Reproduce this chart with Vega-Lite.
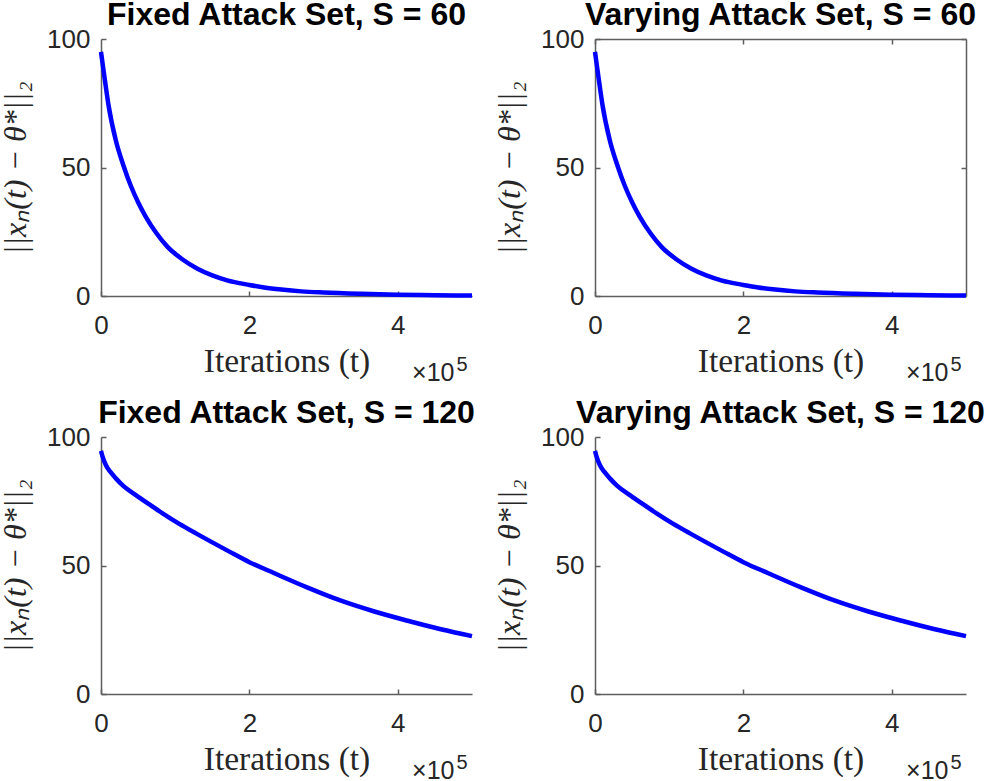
{
  "$schema": "https://vega.github.io/schema/vega-lite/v6.json",
  "padding": {"left": -2, "top": -1, "right": 5, "bottom": 0},
  "background": "white",
  "datasets": {
    "s60": [
      {"t": 0, "v": 95}, {"t": 2500, "v": 89.7}, {"t": 5000, "v": 84.5}, {"t": 10000, "v": 74.5},
      {"t": 20000, "v": 60.5}, {"t": 30000, "v": 51}, {"t": 40000, "v": 43}, {"t": 50000, "v": 36.5},
      {"t": 60000, "v": 31}, {"t": 75000, "v": 24.3}, {"t": 90000, "v": 19}, {"t": 110000, "v": 14.2},
      {"t": 130000, "v": 10.6}, {"t": 150000, "v": 8.0}, {"t": 170000, "v": 6.1}, {"t": 200000, "v": 4.3},
      {"t": 220000, "v": 3.3}, {"t": 243000, "v": 2.5}, {"t": 270000, "v": 1.8}, {"t": 300000, "v": 1.35},
      {"t": 350000, "v": 0.85}, {"t": 400000, "v": 0.5}, {"t": 450000, "v": 0.3}, {"t": 500000, "v": 0.15}
    ],
    "s120": [
      {"t": 0, "v": 94.6}, {"t": 2000, "v": 92.5}, {"t": 6700, "v": 89}, {"t": 13000, "v": 86.3},
      {"t": 20000, "v": 83.9}, {"t": 30000, "v": 81}, {"t": 47000, "v": 77.4}, {"t": 65000, "v": 73.8},
      {"t": 83000, "v": 70.3}, {"t": 105000, "v": 66.3}, {"t": 128000, "v": 62.5}, {"t": 150000, "v": 59},
      {"t": 173000, "v": 55.4}, {"t": 200000, "v": 51.3}, {"t": 233600, "v": 47.0}, {"t": 278500, "v": 41.4},
      {"t": 323500, "v": 36.3}, {"t": 368400, "v": 32.1}, {"t": 413300, "v": 28.5}, {"t": 458000, "v": 25.2},
      {"t": 500000, "v": 22.5}
    ]
  },
  "columns": 2,
  "bounds": "flush",
  "spacing": {"row": 141, "column": 123},
  "concat": [
    {
      "width": 371, "height": 257,
      "title": {"text": "Fixed Attack Set, S = 60"},
      "data": {"name": "s60"},
      "layer": [
        {
          "mark": {"type": "line", "color": "#0000ff", "strokeWidth": 4.5, "interpolate": "monotone"},
          "encoding": {
            "x": {"field": "t", "type": "quantitative", "scale": {"domain": [0, 500000], "nice": false},
                  "axis": {"values": [0, 200000, 400000], "labelExpr": "datum.value / 100000", "title": "Iterations (t)"}},
            "y": {"field": "v", "type": "quantitative", "scale": {"domain": [0, 100], "nice": false},
                  "axis": {"values": [0, 50, 100], "title": "||xₙ(t) − θ*||₂"}}
          }
        },
        {
          "mark": {"type": "line", "opacity": 0},
          "encoding": {
            "x": {"field": "t", "type": "quantitative",
                  "axis": {"orient": "bottom", "title": "×10", "domain": false, "ticks": false, "labels": false,
                           "titleAlign": "right", "titleX": 353, "titleY": 84, "titleFont": "Liberation Sans", "titleFontSize": 25}},
            "y": {"field": "v", "type": "quantitative", "axis": null}
          }
        },
        {
          "mark": {"type": "line", "opacity": 0},
          "encoding": {
            "x": {"field": "t", "type": "quantitative",
                  "axis": {"orient": "bottom", "title": "5", "domain": false, "ticks": false, "labels": false,
                           "titleAlign": "left", "titleX": 355, "titleY": 74, "titleFont": "Liberation Sans", "titleFontSize": 20}},
            "y": {"field": "v", "type": "quantitative", "axis": null}
          }
        }
      ],
      "resolve": {"axis": {"x": "independent", "y": "independent"}}
    },
    {
      "width": 371, "height": 257,
      "title": {"text": "Varying Attack Set, S = 60"},
      "data": {"name": "s60"},
      "layer": [
        {
          "mark": {"type": "line", "color": "#0000ff", "strokeWidth": 4.5, "interpolate": "monotone"},
          "encoding": {
            "x": {"field": "t", "type": "quantitative", "scale": {"domain": [0, 500000], "nice": false},
                  "axis": {"values": [0, 200000, 400000], "labelExpr": "datum.value / 100000", "title": "Iterations (t)"}},
            "y": {"field": "v", "type": "quantitative", "scale": {"domain": [0, 100], "nice": false},
                  "axis": {"values": [0, 50, 100], "title": "||xₙ(t) − θ*||₂"}}
          }
        },
        {
          "mark": {"type": "line", "opacity": 0},
          "encoding": {
            "x": {"field": "t", "type": "quantitative",
                  "axis": {"orient": "top", "title": null, "labels": false, "values": [0, 200000, 400000]}},
            "y": {"field": "v", "type": "quantitative",
                  "axis": {"orient": "right", "title": null, "labels": false, "values": [0, 50, 100]}}
          }
        },
        {
          "mark": {"type": "line", "opacity": 0},
          "encoding": {
            "x": {"field": "t", "type": "quantitative",
                  "axis": {"orient": "bottom", "title": "×10", "domain": false, "ticks": false, "labels": false,
                           "titleAlign": "right", "titleX": 353, "titleY": 84, "titleFont": "Liberation Sans", "titleFontSize": 25}},
            "y": {"field": "v", "type": "quantitative", "axis": null}
          }
        },
        {
          "mark": {"type": "line", "opacity": 0},
          "encoding": {
            "x": {"field": "t", "type": "quantitative",
                  "axis": {"orient": "bottom", "title": "5", "domain": false, "ticks": false, "labels": false,
                           "titleAlign": "left", "titleX": 355, "titleY": 74, "titleFont": "Liberation Sans", "titleFontSize": 20}},
            "y": {"field": "v", "type": "quantitative", "axis": null}
          }
        }
      ],
      "resolve": {"axis": {"x": "independent", "y": "independent"}}
    },
    {
      "width": 371, "height": 257,
      "title": {"text": "Fixed Attack Set, S = 120"},
      "data": {"name": "s120"},
      "layer": [
        {
          "mark": {"type": "line", "color": "#0000ff", "strokeWidth": 4.5, "interpolate": "monotone"},
          "encoding": {
            "x": {"field": "t", "type": "quantitative", "scale": {"domain": [0, 500000], "nice": false},
                  "axis": {"values": [0, 200000, 400000], "labelExpr": "datum.value / 100000", "title": "Iterations (t)"}},
            "y": {"field": "v", "type": "quantitative", "scale": {"domain": [0, 100], "nice": false},
                  "axis": {"values": [0, 50, 100], "title": "||xₙ(t) − θ*||₂"}}
          }
        },
        {
          "mark": {"type": "line", "opacity": 0},
          "encoding": {
            "x": {"field": "t", "type": "quantitative",
                  "axis": {"orient": "bottom", "title": "×10", "domain": false, "ticks": false, "labels": false,
                           "titleAlign": "right", "titleX": 353, "titleY": 84, "titleFont": "Liberation Sans", "titleFontSize": 25}},
            "y": {"field": "v", "type": "quantitative", "axis": null}
          }
        },
        {
          "mark": {"type": "line", "opacity": 0},
          "encoding": {
            "x": {"field": "t", "type": "quantitative",
                  "axis": {"orient": "bottom", "title": "5", "domain": false, "ticks": false, "labels": false,
                           "titleAlign": "left", "titleX": 355, "titleY": 74, "titleFont": "Liberation Sans", "titleFontSize": 20}},
            "y": {"field": "v", "type": "quantitative", "axis": null}
          }
        }
      ],
      "resolve": {"axis": {"x": "independent", "y": "independent"}}
    },
    {
      "width": 371, "height": 257,
      "title": {"text": "Varying Attack Set, S = 120"},
      "data": {"name": "s120"},
      "layer": [
        {
          "mark": {"type": "line", "color": "#0000ff", "strokeWidth": 4.5, "interpolate": "monotone"},
          "encoding": {
            "x": {"field": "t", "type": "quantitative", "scale": {"domain": [0, 500000], "nice": false},
                  "axis": {"values": [0, 200000, 400000], "labelExpr": "datum.value / 100000", "title": "Iterations (t)"}},
            "y": {"field": "v", "type": "quantitative", "scale": {"domain": [0, 100], "nice": false},
                  "axis": {"values": [0, 50, 100], "title": "||xₙ(t) − θ*||₂"}}
          }
        },
        {
          "mark": {"type": "line", "opacity": 0},
          "encoding": {
            "x": {"field": "t", "type": "quantitative",
                  "axis": {"orient": "bottom", "title": "×10", "domain": false, "ticks": false, "labels": false,
                           "titleAlign": "right", "titleX": 353, "titleY": 84, "titleFont": "Liberation Sans", "titleFontSize": 25}},
            "y": {"field": "v", "type": "quantitative", "axis": null}
          }
        },
        {
          "mark": {"type": "line", "opacity": 0},
          "encoding": {
            "x": {"field": "t", "type": "quantitative",
                  "axis": {"orient": "bottom", "title": "5", "domain": false, "ticks": false, "labels": false,
                           "titleAlign": "left", "titleX": 355, "titleY": 74, "titleFont": "Liberation Sans", "titleFontSize": 20}},
            "y": {"field": "v", "type": "quantitative", "axis": null}
          }
        }
      ],
      "resolve": {"axis": {"x": "independent", "y": "independent"}}
    }
  ],
  "config": {
    "view": {"stroke": null},
    "axis": {
      "grid": false, "labelFlush": false,
      "domainColor": "#5e5e5e", "domainWidth": 1.5,
      "tickColor": "#5e5e5e", "tickWidth": 1.5, "tickSize": -5,
      "labelFont": "Liberation Sans", "labelFontSize": 26, "labelColor": "#262626",
      "titleFont": "Liberation Serif", "titleFontSize": 32, "titleFontWeight": "normal", "titleColor": "#262626"
    },
    "axisX": {"labelPadding": 21, "titleBaseline": "alphabetic", "titleY": 75, "titleFontSize": 33.5},
    "axisY": {"labelPadding": 16, "titleFontStyle": "italic", "titleBaseline": "alphabetic", "titleX": -76, "titleY": 128.5},
    "title": {"font": "Liberation Sans", "fontSize": 32, "fontWeight": "bold", "color": "#000000",
              "baseline": "alphabetic", "offset": -6, "anchor": "middle", "frame": "group"}
  }
}
